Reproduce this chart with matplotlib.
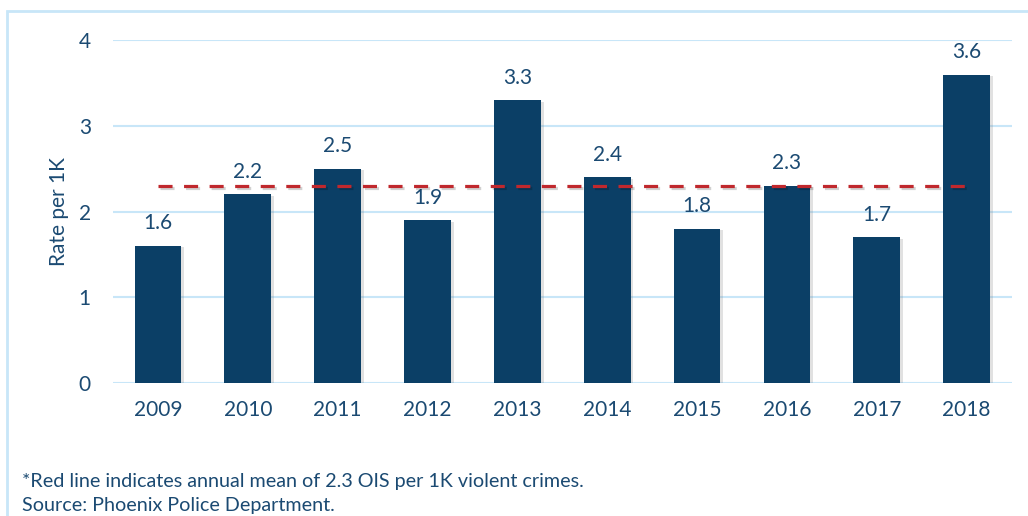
import matplotlib.pyplot as plt
import matplotlib.patheffects as pe
from matplotlib.patches import Rectangle

plt.rcParams['font.family'] = ['Lato', 'DejaVu Sans']

# OIS rate per 1K violent crimes, by year
years = ['2009', '2010', '2011', '2012', '2013', '2014', '2015', '2016', '2017', '2018']
rates = [1.6, 2.2, 2.5, 1.9, 3.3, 2.4, 1.8, 2.3, 1.7, 3.6]
mean_rate = 2.3
yticks = [0, 1, 2, 3, 4]

navy = '#0B3F66'
textc = '#1B4A72'
gridc = '#C8E6F8'
red = '#C0282D'

fig = plt.figure(figsize=(10.28, 5.16), dpi=100)
ax = fig.add_axes([0.110, 0.258, 0.874, 0.664])

x = list(range(len(years)))
bars = ax.bar(x, rates, width=0.52, color=navy, zorder=3)
for b in bars:
    b.set_path_effects([pe.SimplePatchShadow(offset=(2, -1), shadow_rgbFace='#777777', alpha=0.22),
                        pe.Normal()])

# value labels above each bar
for xi, v in zip(x, rates):
    ax.annotate(f'{v:.1f}', (xi, v), xytext=(0, 9), textcoords='offset points',
                ha='center', va='bottom', fontsize=15, color=textc, zorder=4)

# mean line
ax.plot([x[0], x[-1]], [mean_rate, mean_rate], color=red, lw=2.3,
        linestyle=(0, (4.4, 3.6)), zorder=5,
        path_effects=[pe.SimpleLineShadow(offset=(1.5, -1.5), alpha=0.18), pe.Normal()])

ax.set_xlim(-0.5, len(years) - 0.5)
ax.set_ylim(0, 4)
ax.set_yticks(yticks)
ax.set_xticks(x)
ax.set_xticklabels(years)
ax.yaxis.grid(True, color=gridc, lw=1.5, zorder=0)
ax.set_axisbelow(True)
for s in ax.spines.values():
    s.set_visible(False)
ax.tick_params(length=0, labelsize=15, labelcolor=textc)
ax.tick_params(axis='y', pad=16)
ax.tick_params(axis='x', pad=12)
ax.set_ylabel('Rate per 1K', fontsize=15, color=textc, labelpad=7)

# outer frame (only top and left edges fall inside the image)
fig.patches.append(Rectangle((7 / 1028, -0.1), 1.2, 1 - 11 / 516 + 0.1,
                             transform=fig.transFigure, fill=False,
                             edgecolor=gridc, lw=2))

fig.text(22 / 1028, 1 - 481 / 516, '*Red line indicates annual mean of 2.3 OIS per 1K violent crimes.',
         fontsize=14.2, color=textc, va='center', ha='left')
fig.text(22 / 1028, 1 - 506 / 516, 'Source: Phoenix Police Department.',
         fontsize=14.2, color=textc, va='center', ha='left')

fig.savefig('out.png', dpi=100)
